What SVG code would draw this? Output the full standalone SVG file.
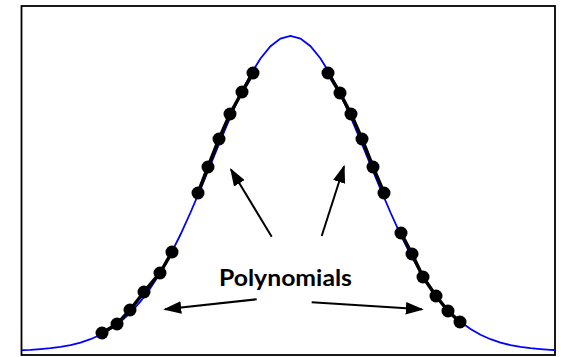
<svg xmlns="http://www.w3.org/2000/svg" width="561" height="357" viewBox="0 0 561 357">
<style>
.frame{fill:#fff;stroke:#000;stroke-width:1.8}
.curve{fill:none;stroke:#0000ff;stroke-width:1.8}
.poly{fill:none;stroke:#000;stroke-width:3.5;stroke-linejoin:round}
.dot{fill:#000}
.arrow{fill:none;stroke:#000;stroke-width:2}
.label{font-family:Lato,"Open Sans","Liberation Sans",sans-serif;font-weight:bold;font-size:22px;fill:#000}
</style>
<defs>
<marker id="ah" viewBox="0 0 10 7" refX="9" refY="3.5" markerWidth="9" markerHeight="6.3" markerUnits="strokeWidth" orient="auto">
<path d="M0,0 L10,3.5 L0,7 z" fill="#000"/>
</marker>
</defs>
<rect class="frame" x="21.5" y="6" width="533.5" height="349"/>
<g id="gaussian">
<polyline class="curve" points="22,350.2 30.5,349.8 40.5,349.1 50.5,348.2 60.5,346.9 70.5,345.1 80.5,342.6 90.5,339.2 100.5,334.8 110.5,329 120.5,321.7 130.5,312.6 140.5,301.4 150.5,288.1 160.5,272.4 170.5,254.5 180.5,234.5 190.5,212.5 200.5,189.1 210.5,164.8 220.5,140.4 230.5,116.7 240.5,94.5 250.5,74.8 260.5,58.5 270.5,46.2 280.5,38.6 290.5,36 300.5,38.6 310.5,46.2 320.5,58.5 330.5,74.8 340.5,94.5 350.5,116.7 360.5,140.4 370.5,164.8 380.5,189.1 390.5,212.5 400.5,234.5 410.5,254.5 420.5,272.4 430.5,288.1 440.5,301.4 450.5,312.6 460.5,321.7 470.5,329 480.5,334.8 490.5,339.2 500.5,342.6 510.5,345.1 520.5,346.9 530.5,348.2 540.5,349.1 550.5,349.8 555,350"/>
</g>
<g id="poly-left-lower">
<polyline class="poly" points="102,333 117,324 130,310 144,292 160,273 172,252"/>
<circle class="dot" cx="102" cy="333" r="6.5"/><circle class="dot" cx="117" cy="324" r="6.5"/><circle class="dot" cx="130" cy="310" r="6.5"/><circle class="dot" cx="144" cy="292" r="6.5"/><circle class="dot" cx="160" cy="273" r="6.5"/><circle class="dot" cx="172" cy="252" r="6.5"/>
</g>
<g id="poly-left-upper">
<polyline class="poly" points="198,193 208,167 219,139 230,114 242,92 253,73"/>
<circle class="dot" cx="198" cy="193" r="6.5"/><circle class="dot" cx="208" cy="167" r="6.5"/><circle class="dot" cx="219" cy="139" r="6.5"/><circle class="dot" cx="230" cy="114" r="6.5"/><circle class="dot" cx="242" cy="92" r="6.5"/><circle class="dot" cx="253" cy="73" r="6.5"/>
</g>
<g id="poly-right-upper">
<polyline class="poly" points="328,73 340,93 351,114 362,139 373,167 384,193"/>
<circle class="dot" cx="328" cy="73" r="6.5"/><circle class="dot" cx="340" cy="93" r="6.5"/><circle class="dot" cx="351" cy="114" r="6.5"/><circle class="dot" cx="362" cy="139" r="6.5"/><circle class="dot" cx="373" cy="167" r="6.5"/><circle class="dot" cx="384" cy="193" r="6.5"/>
</g>
<g id="poly-right-lower">
<polyline class="poly" points="401,233 412,254 423,277 436,296 448,311 460,322"/>
<circle class="dot" cx="401" cy="233" r="6.5"/><circle class="dot" cx="412" cy="254" r="6.5"/><circle class="dot" cx="423" cy="277" r="6.5"/><circle class="dot" cx="436" cy="296" r="6.5"/><circle class="dot" cx="448" cy="311" r="6.5"/><circle class="dot" cx="460" cy="322" r="6.5"/>
</g>
<g id="label">
<text class="label" x="285.5" y="286" text-anchor="middle" textLength="133" lengthAdjust="spacingAndGlyphs">Polynomials</text>
</g>
<g id="connectors">
<line class="arrow" x1="271.7" y1="236.7" x2="231" y2="169.5" marker-end="url(#ah)"/>
<line class="arrow" x1="321.7" y1="236" x2="344" y2="166.5" marker-end="url(#ah)"/>
<line class="arrow" x1="256.7" y1="299.3" x2="165" y2="309.2" marker-end="url(#ah)"/>
<line class="arrow" x1="311.7" y1="302.3" x2="422" y2="309.3" marker-end="url(#ah)"/>
</g>
</svg>
